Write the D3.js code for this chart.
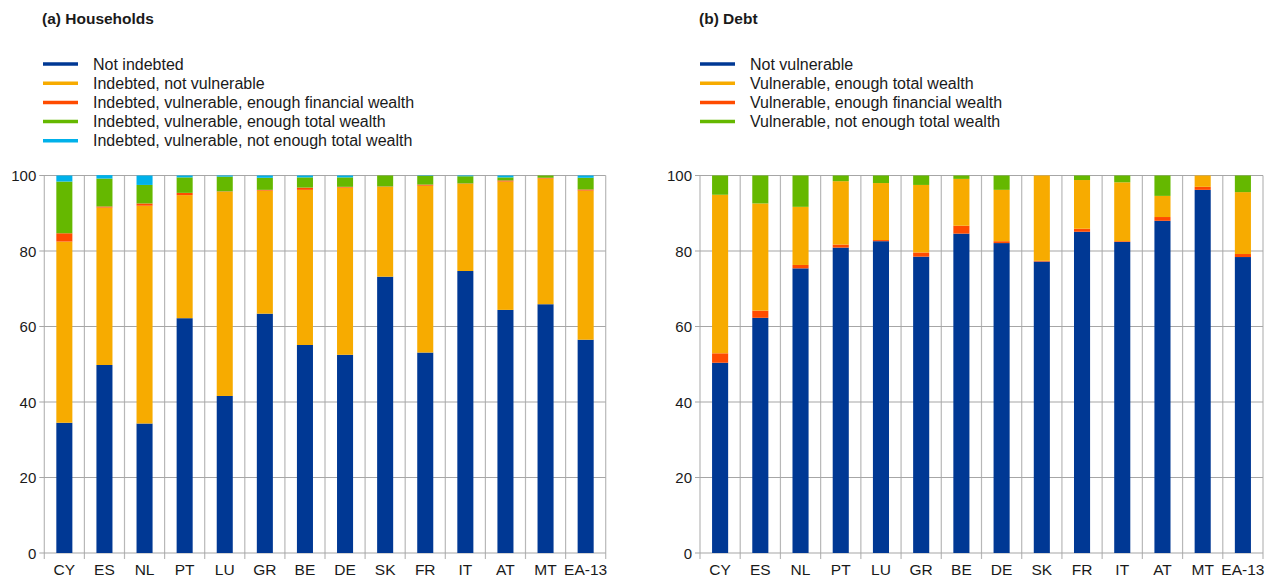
<!DOCTYPE html>
<html>
<head>
<meta charset="utf-8">
<script src="https://cdn.jsdelivr.net/npm/d3@7"></script>
<style>
  html, body { margin: 0; padding: 0; background: #fff; overflow: hidden; }
  svg { display: block; }
  svg text { font-family: "Liberation Sans", Arial, sans-serif; fill: #1a1a1a; }
</style>
</head>
<body>
<svg id="chart" width="1266" height="577"></svg>
<script>
// Countries shown on both panels
const countries = ["CY","ES","NL","PT","LU","GR","BE","DE","SK","FR","IT","AT","MT","EA-13"];
const yTicks = [0, 20, 40, 60, 80, 100];

// Panel (a): share of households (%)
const hhNotIndebted   = [34.5, 49.8, 34.3, 62.2, 41.6, 63.4, 55.1, 52.5, 73.2, 53.1, 74.7, 64.4, 65.9, 56.5];
const hhNotVulnerable = [48.0, 41.7, 57.7, 32.6, 54.1, 32.6, 41.1, 44.3, 23.8, 44.2, 23.1, 34.0, 33.3, 39.5];
const hhVulnFinWealth = [ 2.2,  0.3,  0.6,  0.6,  0.1,  0.2,  0.6,  0.2,  0.1,  0.3,  0.1,  0.3,  0.2,  0.3];
const hhVulnTotWealth = [13.7,  7.4,  4.9,  4.1,  3.9,  3.2,  2.7,  2.5,  2.9,  2.3,  1.9,  0.8,  0.6,  3.1];
const hhVulnNoWealth  = [ 1.6,  0.9,  2.5,  0.5,  0.3,  0.6,  0.5,  0.5,  0.0,  0.1,  0.2,  0.5,  0.0,  0.6];

// Panel (b): share of debt (%)
const debtNotVulnerable = [50.4, 62.3, 75.4, 80.9, 82.6, 78.5, 84.6, 82.1, 77.2, 85.1, 82.4, 88.0, 96.2, 78.4];
const debtVulnFinWealth = [ 2.5,  1.9,  0.9,  0.8,  0.3,  1.1,  2.1,  0.5,  0.2,  0.8,  0.2,  1.0,  0.8,  0.8];
const debtVulnTotWealth = [42.0, 28.4, 15.4, 16.8, 15.1, 17.9, 12.4, 13.6, 22.6, 12.9, 15.6,  5.6,  3.0, 16.4];
const debtVulnNoWealth  = [ 5.1,  7.4,  8.3,  1.5,  2.0,  2.5,  0.9,  3.8,  0.0,  1.2,  1.8,  5.4,  0.0,  4.4];

const BLUE = "#003894", YELLOW = "#F7AB00", ORANGE = "#FF4B00", GREEN = "#65B800", CYAN = "#00B1EA";

const panels = [
  {
    title: "(a) Households",
    x0: 44.3, x1: 605.7, legendX: 43,
    // series listed bottom-to-top in the stack
    series: [
      { key: "Not indebted", values: hhNotIndebted, color: BLUE },
      { key: "Indebted, not vulnerable", values: hhNotVulnerable, color: YELLOW },
      { key: "Indebted, vulnerable, enough financial wealth", values: hhVulnFinWealth, color: ORANGE },
      { key: "Indebted, vulnerable, enough total wealth", values: hhVulnTotWealth, color: GREEN },
      { key: "Indebted, vulnerable, not enough total wealth", values: hhVulnNoWealth, color: CYAN }
    ],
    legendOrder: [0, 1, 2, 3, 4]
  },
  {
    title: "(b) Debt",
    x0: 700, x1: 1263, legendX: 700,
    series: [
      { key: "Not vulnerable", values: debtNotVulnerable, color: BLUE },
      { key: "Vulnerable, enough financial wealth", values: debtVulnFinWealth, color: ORANGE },
      { key: "Vulnerable, enough total wealth", values: debtVulnTotWealth, color: YELLOW },
      { key: "Vulnerable, not enough total wealth", values: debtVulnNoWealth, color: GREEN }
    ],
    legendOrder: [0, 2, 1, 3]
  }
];

const svg = d3.select("#chart");
const yTop = 175.5, yBottom = 553;
const y = d3.scaleLinear().domain([0, 100]).range([yBottom, yTop]);

panels.forEach(p => {
  const g = svg.append("g");
  const x = d3.scaleBand().domain(countries).range([p.x0, p.x1]).paddingInner(0.6).paddingOuter(0.3);
  const step = x.step();

  // title
  g.append("text").attr("x", p.legendX - 1).attr("y", 24)
    .attr("font-size", 15.5).attr("font-weight", "bold").text(p.title);

  // legend
  p.legendOrder.forEach((si, i) => {
    const s = p.series[si];
    const ly = 64 + i * 19.2;
    g.append("line").attr("x1", p.legendX).attr("x2", p.legendX + 35)
      .attr("y1", ly).attr("y2", ly).attr("stroke", s.color).attr("stroke-width", 3.5);
    g.append("text").attr("x", p.legendX + 50).attr("y", ly + 5.5)
      .attr("font-size", 16).text(s.key);
  });

  // vertical separators between categories (extend below baseline as ticks)
  const bounds = d3.range(countries.length + 1).map(i => p.x0 + i * step);
  g.selectAll(".vgrid").data(bounds).join("line")
    .attr("x1", d => d).attr("x2", d => d)
    .attr("y1", yTop).attr("y2", yBottom + 6)
    .attr("stroke", "#b8b8b8").attr("stroke-width", 1.2);

  // horizontal gridlines
  g.selectAll(".hgrid").data(yTicks).join("line")
    .attr("x1", p.x0 - 5).attr("x2", p.x1)
    .attr("y1", d => y(d)).attr("y2", d => y(d))
    .attr("stroke", "#a6a6a6").attr("stroke-width", 1.2);

  // y tick labels
  g.selectAll(".ylab").data(yTicks).join("text")
    .attr("x", p.x0 - 8).attr("y", d => y(d) + 5.5)
    .attr("text-anchor", "end").attr("font-size", 15).text(d => d);

  // stacked bars
  const rows = countries.map((c, i) => {
    const r = { country: c };
    p.series.forEach(s => r[s.key] = s.values[i]);
    return r;
  });
  const stack = d3.stack().keys(p.series.map(s => s.key))(rows);
  stack.forEach((layer, li) => {
    g.append("g").attr("fill", p.series[li].color)
      .selectAll("rect").data(layer).join("rect")
      .attr("x", d => x(d.data.country))
      .attr("width", x.bandwidth())
      .attr("y", d => y(d[1]))
      .attr("height", d => Math.max(0, y(d[0]) - y(d[1])));
  });

  // category labels
  g.selectAll(".xlab").data(countries).join("text")
    .attr("x", d => x(d) + x.bandwidth() / 2).attr("y", 575)
    .attr("text-anchor", "middle").attr("font-size", 15.5).text(d => d);
});
</script>
</body>
</html>
